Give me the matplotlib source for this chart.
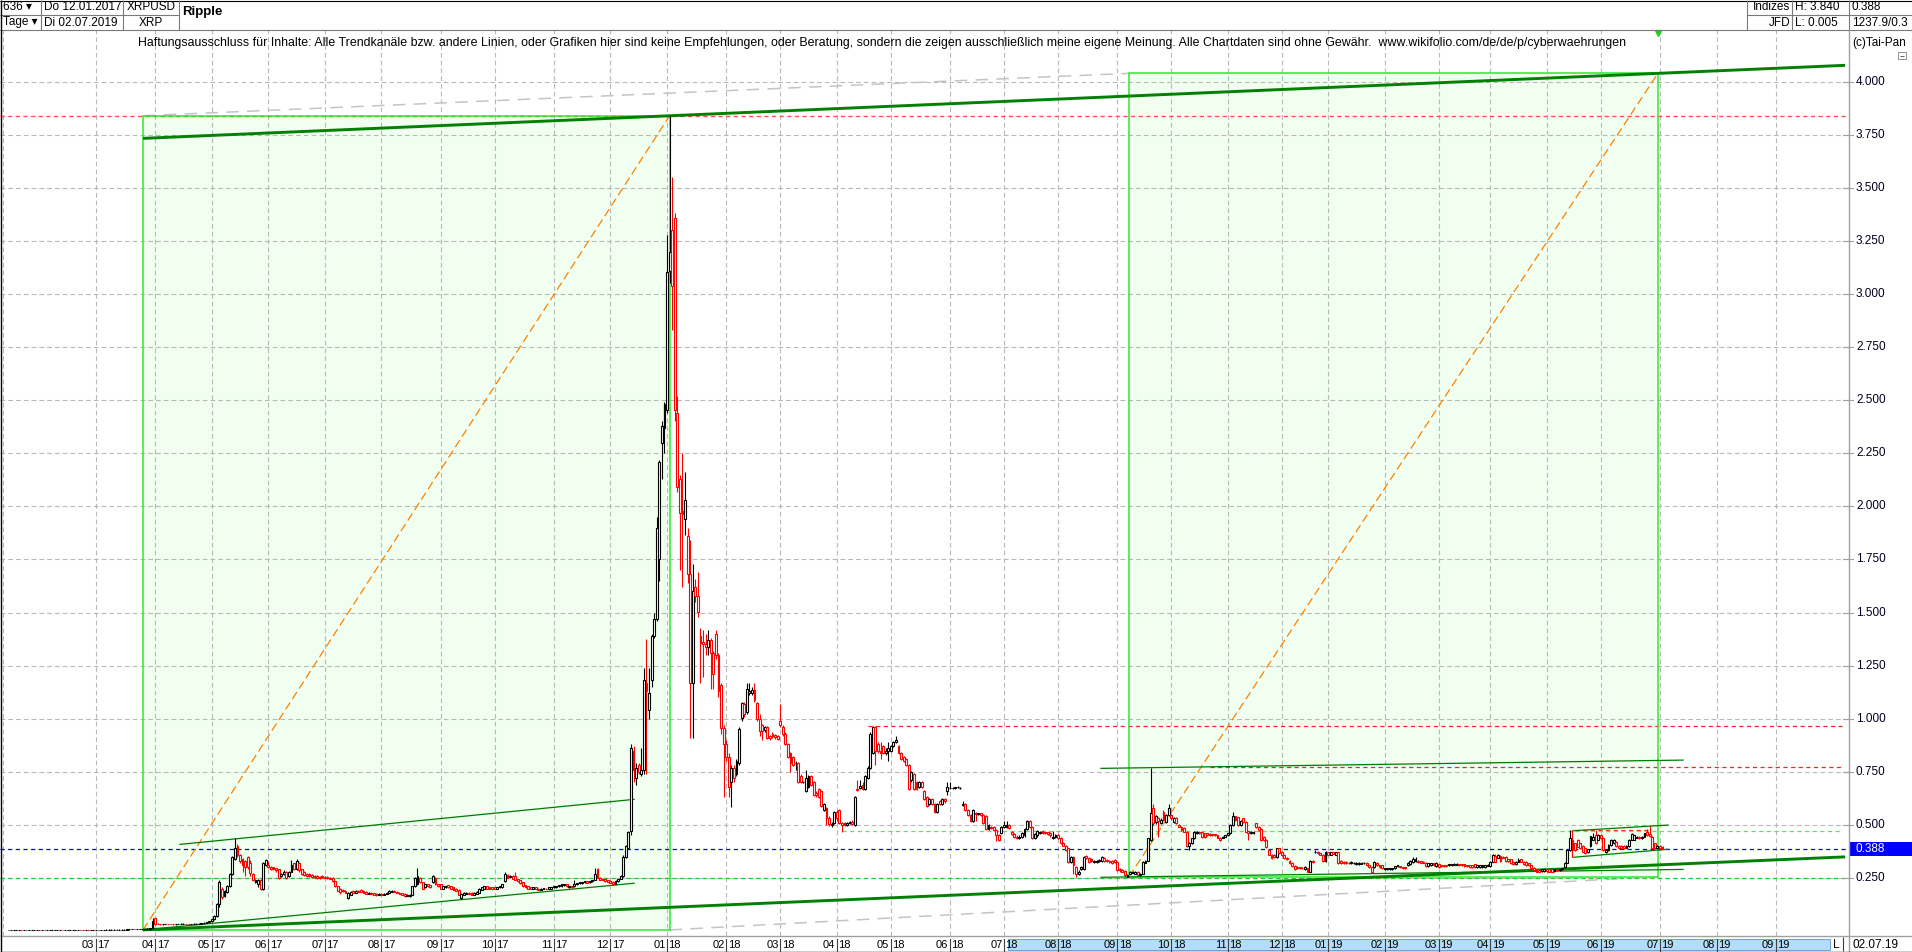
import numpy as np
import matplotlib
matplotlib.use("Agg")
import matplotlib.pyplot as plt
from matplotlib import transforms
from matplotlib.patches import Rectangle

plt.rcParams['font.family'] = ['Liberation Sans', 'DejaVu Sans']
plt.rcParams['lines.scale_dashes'] = False

# ---------------- data: daily (weekday) OHLC of XRPUSD, in thousandths of USD ----------------
# each tuple = (open, high, low, close)
ohlc_2017_pre = [
(6,7,6,6),(6,7,6,6),(6,7,6,6),(6,7,5,6),(6,7,6,6),(7,7,6,6),(6,7,6,6),(6,7,6,6),(6,7,6,6),(6,7,6,6),
(6,7,6,7),(7,7,6,7),(7,7,6,6),(6,7,6,6),(6,7,6,6),(6,7,6,6),(6,7,6,6),(6,7,6,6),(6,7,6,6),(6,7,6,6),
(6,7,6,6),(7,7,6,6),(6,7,6,6),(6,7,6,6),(6,7,6,6),(6,7,6,6),(6,7,6,6),(6,7,6,6),(6,7,6,7),(7,7,6,6),
(6,7,6,6),(7,7,6,6),(6,7,6,6),(6,7,6,6)]
ohlc_2017_03 = [
(6,7,6,6),(6,7,6,6),(6,7,6,6),(6,7,6,7),(7,8,6,7),(7,8,6,7),(7,8,6,7),(7,8,6,7),(7,8,6,7),(7,8,6,7),
(7,8,6,7),(7,8,6,7),(7,9,7,8),(8,9,7,8),(8,10,8,9),(9,10,8,9),(9,10,8,9),(9,10,8,9),(9,11,9,10),(10,11,9,10),
(10,12,10,11),(11,16,11,15),(16,60,15,48)]
ohlc_2017_04 = [
(60,62,30,35),(35,37,31,33),(33,35,30,32),(32,34,30,33),(33,35,31,34),(34,35,31,33),(33,35,31,33),(33,34,30,32),(32,34,30,32),(32,35,31,33),
(33,36,32,34),(34,36,32,34),(34,35,31,33),(33,35,31,33),(33,35,31,33),(33,36,32,34),(34,36,32,34),(34,37,33,35),(35,38,34,36),(36,40,35,38),
(38,44,37,42),(42,48,41,46)]
ohlc_2017_05 = [
(46,58,44,55),(55,75,53,70),(70,130,68,125),(125,240,115,230),(200,205,150,160),(165,195,160,190),(185,215,180,210),(210,275,205,270),(270,355,265,350),(340,437,335,390),
(400,410,350,360),(360,365,320,330),(340,345,280,310),(330,335,260,300),(350,355,290,300),(320,335,260,275),(270,275,235,240),(230,245,225,240),(220,245,205,240),(240,245,195,200),
(200,325,195,320),(310,340,305,335)]
ohlc_2017_06 = [
(310,330,295,300),(300,305,285,290),(300,302,285,290),(295,298,280,285),(290,292,245,250),(260,275,255,270),(270,285,265,280),(280,282,245,250),(260,283,255,280),(280,335,278,310),
(320,322,285,290),(290,340,288,330),(320,325,280,285),(290,292,265,270),(280,283,260,265),(270,273,255,260),(270,272,256,260),(265,268,250,255),(260,262,250,255),(260,262,246,250),
(255,258,246,250),(260,262,250,255)]
ohlc_2017_07 = [
(255,258,248,250),(255,257,247,250),(250,253,243,245),(250,252,232,235),(235,237,208,210),(210,213,188,190),(200,203,175,185),(195,198,186,190),(190,193,178,180),(155,183,150,180),
(170,188,168,185),(190,193,178,180),(180,193,178,190),(190,193,183,185),(195,197,183,185),(190,192,178,180),(185,187,172,175),(175,183,172,180),(180,182,172,175),(178,180,168,170),
(175,177,165,168),(170,178,168,175)]
ohlc_2017_08 = [
(175,177,168,170),(170,178,168,175),(175,182,173,180),(180,192,178,190),(185,193,183,190),(190,192,183,185),(185,187,178,180),(180,182,173,175),(178,180,168,170),(175,177,162,165),
(165,172,163,170),(165,172,162,170),(170,212,168,210),(210,252,208,250),(220,295,218,260),(250,255,228,230),(230,233,198,200),(205,223,202,220),(220,222,208,210),(215,217,203,205),
(230,262,228,260),(250,252,218,220),(220,223,208,210)]
ohlc_2017_09 = [
(220,222,198,200),(200,212,198,210),(205,213,203,210),(215,217,203,205),(210,212,198,200),(205,207,193,195),(200,202,188,190),(195,197,168,170),(155,177,150,175),(170,182,168,180),
(175,182,173,180),(180,182,173,175),(180,182,168,170),(170,182,168,180),(175,187,173,185),(180,202,178,200),(195,207,193,205),(200,212,198,210),(210,212,198,200),(205,207,198,200),
(205,207,198,200)]
ohlc_2017_10 = [
(205,207,198,200),(200,207,198,205),(205,212,203,210),(205,222,203,220),(235,280,232,270),(265,268,248,250),(255,262,253,260),(260,262,243,245),(260,280,238,240),(245,247,233,235),
(240,242,223,225),(230,232,208,210),(215,217,203,205),(210,212,198,200),(205,207,196,198),(198,207,196,205),(205,207,196,198),(200,202,193,195),(195,202,193,200),(198,204,196,202),
(200,202,196,198),(198,207,196,205),(200,207,198,205)]
ohlc_2017_11 = [
(205,212,203,210),(205,212,203,210),(210,217,208,215),(210,222,208,220),(215,222,213,220),(220,222,208,210),(205,212,203,210),(210,212,203,205),(210,240,208,220),(220,227,218,225),
(225,232,223,230),(225,232,223,230),(230,237,228,235),(235,237,226,228),(230,237,228,235),(235,242,233,240),(240,295,238,270),(290,295,248,250),(250,252,238,240),(245,247,238,240),
(245,247,233,235),(240,242,230,232)]
ohlc_2017_12 = [
(235,240,226,228),(230,235,218,222),(222,238,220,235),(235,247,233,245),(245,262,243,260),(260,360,255,350),(350,405,345,400),(390,470,385,465),(470,880,450,860),(850,870,700,760),
(720,790,690,770),(780,790,740,750),(740,860,730,760),(760,1240,740,1180),(1170,1375,740,1130),(1040,1240,1000,1120),(1180,1400,1150,1390),(1390,1500,1380,1470),(1470,1950,1460,1900),(1750,2220,1650,2210),
(2300,2400,2130,2380),(2370,2490,2250,2480)]
ohlc_2018_01 = [
(2455,3280,2440,3106),(3110,3840,3050,3200),(3300,3550,2830,3040),(3360,3380,2400,2455),(2440,2520,2070,2090),(2130,2150,1700,1970),(1980,2250,1620,1965),(1940,2160,1865,2030),(1860,1900,1640,1680),(1680,1840,910,1170),
(1170,1730,910,1600),(1620,1660,1550,1580),(1578,1690,1480,1504),(1390,1425,1167,1355),(1360,1417,1197,1350),(1350,1400,1300,1340),(1340,1420,1300,1370),(1370,1380,1140,1310),(1310,1320,1140,1210),(1400,1420,1280,1300),
(1300,1310,1100,1130),(1160,1170,930,955),(955,970,633,880)]
ohlc_2018_02 = [
(880,900,800,820),(820,840,630,680),(700,780,585,770),(770,780,700,720),(740,810,730,800),(790,960,780,950),(1005,1080,990,1075),(1070,1080,1010,1020),(1030,1170,1020,1140),(1120,1170,1110,1130),
(1120,1150,1110,1135),(1135,1170,1080,1090),(1075,1080,990,1000),(1000,1020,920,940),(970,975,900,940),(945,965,935,960),(960,965,905,910),(920,925,900,910),(930,935,910,920),(925,930,905,915),
(920,925,900,905)]
ohlc_2018_03 = [
(990,1070,960,970),(960,970,920,930),(930,935,875,880),(880,885,815,820),(840,845,750,790),(820,825,775,780),(790,800,760,790),(790,795,695,700),(730,740,695,700),(700,705,695,702),
(660,760,655,720),(680,735,675,730),(730,735,685,690),(700,705,635,640),(650,660,630,640),(670,675,625,630),(660,665,585,590),(570,605,565,600),(580,585,500,530),(530,540,495,505),
(500,515,490,505),(510,565,505,560)]
ohlc_2018_04 = [
(560,570,520,530),(570,575,505,510),(510,515,466,500),(510,512,495,500),(500,515,495,510),(510,520,505,515),(515,525,500,505),(500,635,495,630),(670,710,660,665),(675,710,670,685),
(690,700,665,670),(670,735,665,730),(720,775,715,770),(770,935,765,930),(840,965,835,960),(960,965,780,850),(880,890,840,850),(850,890,810,840),(870,875,835,840),(840,860,830,850),
(850,890,800,860)]
ohlc_2018_05 = [
(850,875,845,870),(870,895,865,890),(890,920,885,900),(870,875,835,840),(840,845,805,810),(820,825,795,800),(810,815,775,780),(780,785,665,670),(710,755,700,750),(740,745,665,670),
(700,705,665,670),(680,705,675,700),(700,705,675,680),(660,665,615,620),(630,635,585,590),(600,625,595,620),(620,625,595,600),(600,605,555,560),(560,605,555,600),(610,615,595,600),
(600,625,595,620),(620,625,605,610),(660,700,640,680)]
ohlc_2018_06 = [
(675,700,670,675),(675,680,670,675),(675,680,670,676),(678,685,672,680),(675,680,670,675),(595,610,590,600),(600,605,565,570),(570,575,540,545),(545,550,515,520),(520,575,515,570),
(555,560,520,550),(550,558,545,555),(555,558,540,545),(545,550,505,510),(540,545,475,480),(480,505,475,500),(490,495,480,485),(490,495,470,475),(475,480,425,450),(450,455,425,430),
(460,495,455,490)]
ohlc_2018_07 = [
(490,520,485,500),(490,520,485,500),(500,505,480,485),(465,470,450,455),(455,460,440,445),(445,450,435,440),(440,450,435,445),(445,465,440,460),(450,485,445,480),(480,525,475,520),
(520,525,485,490),(490,495,435,440),(440,460,435,455),(450,475,445,470),(460,470,455,465),(470,475,455,460),(465,470,455,460),(465,468,450,455),(460,465,445,450),(440,470,435,445),
(445,455,440,450)]
ohlc_2018_08 = [
(450,455,435,440),(437,445,410,413),(413,418,398,400),(400,405,378,382),(389,392,320,326),(326,355,322,350),(350,355,270,310),(300,305,256,270),(270,285,265,280),(290,305,285,300),
(290,355,285,350),(355,360,340,345),(345,350,322,327),(340,345,325,330),(325,335,320,330),(325,335,320,330),(330,340,326,335),(330,355,326,350),(345,350,326,330),(335,340,326,330),
(330,335,320,325),(330,335,316,320),(335,338,320,325)]
ohlc_2018_09 = [
(325,330,283,287),(290,295,280,285),(285,290,276,280),(284,288,256,264),(256,268,254,264),(270,283,268,280),(275,283,272,280),(270,283,268,280),(280,283,262,265),(265,273,262,270),
(270,330,268,327),(320,335,318,330),(330,440,328,437),(430,766,425,555),(578,600,500,507),(515,545,505,540),(530,535,445,520),(510,530,505,525),(562,568,518,523),(515,550,510,546),
(546,598,540,578)]
ohlc_2018_10 = [
(546,550,525,530),(515,535,510,530),(530,535,502,507),(500,505,488,492),(492,496,472,476),(484,488,464,468),(468,472,396,400),(400,418,380,413),(413,440,408,437),(437,472,432,468),
(460,472,455,468),(468,470,455,460),(465,468,440,445),(460,463,440,445),(460,463,446,450),(458,461,446,450),(455,458,446,450),(456,459,446,450),(450,453,436,440),(440,443,426,430),
(440,448,436,445),(445,453,441,450)]
ohlc_2018_11 = [
(450,463,446,460),(460,503,456,500),(500,562,496,542),(540,544,519,523),(535,538,496,500),(500,524,496,520),(530,533,511,515),(515,518,464,468),(470,473,430,460),(460,471,456,468),
(460,471,456,468),(507,510,486,490),(490,493,472,476),(480,483,426,430),(445,448,426,430),(430,433,393,397),(382,385,356,360),(360,364,339,343),(360,363,346,350),(350,393,346,390),
(390,393,362,366)]
ohlc_2018_12 = [
(374,378,354,358),(358,362,339,343),(345,349,336,340),(330,334,316,320),(320,324,302,306),(306,310,286,290),(300,304,291,295),(300,303,293,297),(298,301,291,295),(290,304,287,300),
(295,298,276,280),(280,334,277,330),(330,333,321,325),(370,380,366,374),(374,377,362,366),(366,369,356,360),(360,363,326,330),(330,378,327,374)]
ohlc_2019_01 = [
(370,373,356,360),(360,374,356,370),(370,373,361,365),(360,374,356,370),(370,373,316,320),(330,333,316,320),(325,328,316,320),(325,328,316,320),(322,325,314,318),(318,329,315,325),
(318,324,315,320),(316,324,313,320),(316,324,313,320),(317,323,314,320),(318,323,315,320),(320,323,306,310),(310,313,296,300),(300,303,276,280),(300,329,297,325),(320,323,306,310),
(310,313,296,300),(310,313,291,295)]
ohlc_2019_02 = [
(290,298,287,295),(290,298,287,295),(290,298,287,295),(290,298,287,295),(295,308,292,305),(305,313,302,310),(305,308,297,300),(300,303,292,295),(300,303,292,295),(310,323,307,320),
(315,333,312,330),(325,350,322,337),(330,350,327,340),(330,333,322,325),(328,331,319,322),(326,329,319,322),(322,325,303,306),(306,321,303,318),(310,321,307,318),(318,321,307,310),
(306,325,303,322)]
ohlc_2019_03 = [
(314,317,299,302),(310,313,302,305),(310,313,302,305),(310,313,302,305),(310,317,307,314),(310,317,307,314),(312,318,309,315),(313,319,310,316),(314,317,307,310),(314,317,307,310),
(314,317,302,305),(310,313,302,305),(310,313,299,302),(310,313,299,302),(314,317,299,302),(302,313,299,310),(302,313,299,310),(302,313,299,310),(302,313,299,310),(308,315,305,312)]
ohlc_2019_04 = [
(306,329,303,326),(326,363,323,360),(353,365,323,326),(345,363,342,360),(353,356,327,330),(350,353,342,345),(350,353,327,330),(337,340,327,330),(337,340,315,318),(326,329,311,314),
(314,329,311,326),(326,345,323,333),(337,340,323,326),(326,329,311,314),(326,329,307,310),(318,321,307,310),(310,313,295,298),(298,301,284,287),(290,293,277,280),(288,291,277,280),
(283,293,280,290),(283,293,280,290)]
ohlc_2019_05 = [
(290,293,280,283),(290,293,277,280),(290,293,277,280),(283,293,280,290),(290,293,282,285),(285,293,282,290),(290,298,287,295),(300,325,297,322),(322,384,319,381),(381,476,378,436),
(428,474,350,381),(413,416,378,381),(428,431,394,397),(413,416,386,389),(400,403,371,374),(389,392,363,366),(370,388,367,385),(400,449,397,446),(430,460,427,445),(452,476,410,413),
(430,455,427,452)]
ohlc_2019_06 = [
(450,453,433,436),(436,439,378,381),(370,383,367,380),(380,408,377,405),(405,431,402,428),(415,431,412,428),(420,423,397,400),(400,403,387,390),(400,403,387,390),(400,403,387,390),
(393,403,390,400),(400,433,397,430),(430,461,427,458),(430,453,427,450),(440,448,437,445),(445,448,433,436),(436,448,433,445),(445,463,442,460),(467,479,449,452),(456,495,444,447),
(445,448,380,389),(413,416,386,389),(390,403,387,400)]
ohlc_2019_07 = [(400,403,387,390),(395,398,385,388)]

month_blocks = [ohlc_2017_pre, ohlc_2017_03, ohlc_2017_04, ohlc_2017_05, ohlc_2017_06, ohlc_2017_07,
                ohlc_2017_08, ohlc_2017_09, ohlc_2017_10, ohlc_2017_11, ohlc_2017_12, ohlc_2018_01,
                ohlc_2018_02, ohlc_2018_03, ohlc_2018_04, ohlc_2018_05, ohlc_2018_06, ohlc_2018_07,
                ohlc_2018_08, ohlc_2018_09, ohlc_2018_10, ohlc_2018_11, ohlc_2018_12, ohlc_2019_01,
                ohlc_2019_02, ohlc_2019_03, ohlc_2019_04, ohlc_2019_05, ohlc_2019_06, ohlc_2019_07]

# calendar of the time axis (bars per month); first entry starts 2 bars before the first data bar
month_labels = ['', '03|17', '04|17', '05|17', '06|17', '07|17', '08|17', '09|17', '10|17', '11|17', '12|17',
                '01|18', '02|18', '03|18', '04|18', '05|18', '06|18', '07|18', '08|18', '09|18', '10|18',
                '11|18', '12|18', '01|19', '02|19', '03|19', '04|19', '05|19', '06|19', '07|19', '08|19', '09|19']
month_lengths = [36, 23, 22, 22, 22, 22, 23, 21, 23, 22, 22, 23, 21, 22, 21, 23, 21, 21, 23, 21, 22,
                 21, 18, 22, 21, 20, 22, 21, 23, 22, 23, 23]
calendar_start = -2

price_ticks = [0.25, 0.5, 0.75, 1.0, 1.25, 1.5, 1.75, 2.0, 2.25, 2.5, 2.75, 3.0, 3.25, 3.5, 3.75, 4.0]
last_price = 0.388
ath, atl = 3.840, 0.005

# drawing annotations (bar index, price)
box1 = (52.3, atl, None, ath)           # right edge = bar of all-time high
box2 = (435.6, 0.256, 641.2, None)      # top edge = upper channel line
channel_slope = 0.00052                 # price per bar of the long channel
thin_lines = [((66.7, 0.408), (243.2, 0.620)), ((52.3, 0.005), (243.2, 0.225)),
              ((424.7, 0.766), (651.0, 0.805)), ((424.7, 0.253), (651.0, 0.290)),
              ((608.2, 0.472), (645.1, 0.499)), ((608.2, 0.347), (645.1, 0.385))]
red_levels = [(0.966, 334.0), (0.771, 467.0)]
red_short = (0.476, 609.0, 638.0)
green_levels = [(0.251, None), (0.471, 324.0)]

# ---------------- build arrays ----------------
bars = [b for blk in month_blocks for b in blk]
o = np.array([b[0] for b in bars]) / 1000.0
h = np.array([b[1] for b in bars]) / 1000.0
l = np.array([b[2] for b in bars]) / 1000.0
c = np.array([b[3] for b in bars]) / 1000.0
idx = np.arange(len(bars))

W, H = 1912, 952
fig = plt.figure(figsize=(W / 100, H / 100), dpi=100)
PT, PB, PR = 30, 936, 1849
ax = fig.add_axes([0, (H - PB) / H, PR / W, (PB - PT) / H])
ax.set_xlim(-3.3, 715.5)
ax.set_ylim(-0.0236, 4.244)
ax.set_axis_off()
XR = 712.8

# boxes
ath_idx = int(np.argmax(h))
b1x0, b1y0, _, b1y1 = box1
b1x1 = ath_idx
upper_at = lambda x: ath + channel_slope * (x - ath_idx)
lower_at = lambda x: atl + channel_slope * (x - b1x0)
b2x0, b2y0, b2x1, _ = box2
b2y1 = upper_at(b2x1)
for (x0, y0, x1, y1) in [(b1x0, b1y0, b1x1, b1y1), (b2x0, b2y0, b2x1, b2y1)]:
    ax.add_patch(Rectangle((x0, y0), x1 - x0, y1 - y0, facecolor='#f0fff0', edgecolor='none', zorder=0.5))

# grid
grid_kw = dict(color='#b8b8b8', lw=0.8, dashes=(3.4, 2.2), zorder=1)
for v in price_ticks:
    ax.axhline(v, **grid_kw)
tick_pos = calendar_start + np.concatenate([[0], np.cumsum(month_lengths[:-1])])
for t in tick_pos:
    ax.axvline(t, **grid_kw)

for (x0, y0, x1, y1) in [(b1x0, b1y0, b1x1, b1y1), (b2x0, b2y0, b2x1, b2y1)]:
    ax.add_patch(Rectangle((x0, y0), x1 - x0, y1 - y0, facecolor='none', edgecolor='#2ee82e', lw=1.1, zorder=2))
    ax.plot([x0, x1], [y0, y1], color='#ff8000', lw=0.9, dashes=(6, 3), zorder=2.2)

# gray connectors
ax.plot([b1x0, b2x0], [b1y1, b2y1], color='#c4c4c4', lw=1.1, dashes=(9, 6), zorder=1.5)
ax.plot([b1x1, b2x1], [b1y0, b2y0], color='#c4c4c4', lw=1.1, dashes=(9, 6), zorder=1.5)

# horizontal levels
ax.axhline(ath, color='#ff5050', lw=1.0, dashes=(3, 2.5), zorder=1.6)
for v, x0 in red_levels:
    ax.hlines(v, x0, XR, color='#ff2020', lw=0.9, linestyles=(0, (3, 2.5)), zorder=1.6)
ax.hlines(red_short[0], red_short[1], red_short[2], color='#ff2020', lw=0.9, linestyles=(0, (3, 2.5)), zorder=1.6)
for v, x0 in green_levels:
    if x0 is None:
        ax.axhline(v, color='#22cc22', lw=0.9, dashes=(3, 2.5), zorder=1.6)
    else:
        ax.hlines(v, x0, XR, color='#66e066', lw=0.9, linestyles=(0, (3, 2.5)), zorder=1.6)
ax.axhline(last_price, color='#0000ee', lw=0.9, dashes=(3, 2.5), zorder=1.6)

# channel lines
xe = 714.0
ax.plot([b1x0, xe], [lower_at(b1x0), lower_at(xe)], color='#008000', lw=2.1, zorder=2.5, solid_capstyle='butt')
ax.plot([b1x0, xe], [upper_at(b1x0), upper_at(xe)], color='#008000', lw=2.1, zorder=2.5, solid_capstyle='butt')
for (p0, p1) in thin_lines:
    ax.plot([p0[0], p1[0]], [p0[1], p1[1]], color='#007a00', lw=0.9, zorder=2.6)

# candles (hollow)
up = c >= o
cols = np.where(up, '#000000', '#ff0000')
ax.vlines(idx, l, h, colors=cols, lw=0.8, zorder=3)
ax.bar(idx, np.abs(c - o), bottom=np.minimum(o, c), width=0.72, facecolor='white',
       edgecolor=cols, linewidth=0.8, zorder=4)

# marker at top
ax.plot([b2x1], [4.228], marker='v', color='#22cc22', markersize=5, zorder=5, clip_on=False)

# ---------------- overlay (header, axes, band) ----------------
ov = fig.add_axes([0, 0, 1, 1])
ov.set_xlim(0, W)
ov.set_ylim(H, 0)
ov.set_axis_off()
ov.patch.set_alpha(0)
lc = '#7a7a7a'
fs = 8.5

def hl(y, x0, x1, col=lc, lw=0.8):
    ov.plot([x0, x1], [y, y], color=col, lw=lw, solid_capstyle='butt')

def vl(x, y0, y1, col=lc, lw=0.8):
    ov.plot([x, x], [y0, y1], color=col, lw=lw, solid_capstyle='butt')

# header
hl(0.5, 0, W, '#000000')
hl(30, 0, W)
hl(14.5, 0, 179)
hl(14.5, 1747, W)
for x in (41, 123, 179, 1747, 1792, 1849):
    vl(x, 0, 30)
ov.text(3, 7.5, '636 ▾', fontsize=fs, va='center', ha='left')
ov.text(3, 22.5, 'Tage ▾', fontsize=fs, va='center', ha='left')
ov.text(44, 7.5, 'Do 12.01.2017', fontsize=fs, va='center', ha='left')
ov.text(44, 22.5, 'Di 02.07.2019', fontsize=fs, va='center', ha='left')
ov.text(151, 7.5, 'XRPUSD', fontsize=fs, va='center', ha='center')
ov.text(151, 22.5, 'XRP', fontsize=fs, va='center', ha='center')
ov.text(182, 12, 'Ripple', fontsize=9.5, fontweight='bold', va='center', ha='left')
ov.text(1790, 7.5, 'Indizes', fontsize=fs, va='center', ha='right')
ov.text(1790, 22.5, 'JFD', fontsize=fs, va='center', ha='right')
ov.text(1795, 7.5, 'H: 3.840', fontsize=fs, va='center', ha='left')
ov.text(1795, 22.5, 'L: 0.005', fontsize=fs, va='center', ha='left')
ov.text(1852, 7.5, '0.388', fontsize=fs, va='center', ha='left')
ov.text(1852, 22.5, '1237.9/0.3', fontsize=fs, va='center', ha='left')

ov.text(138, 43, 'Haftungsausschluss für Inhalte: Alle Trendkanäle bzw. andere Linien, oder Grafiken hier sind keine '
        'Empfehlungen, oder Beratung, sondern die zeigen ausschließlich meine eigene Meinung. Alle Chartdaten sind '
        'ohne Gewähr.  www.wikifolio.com/de/de/p/cyberwaehrungen', fontsize=8.9, va='center', ha='left')
ov.text(1852, 43, '(c)Tai-Pan', fontsize=fs, va='center', ha='left')
ov.add_patch(Rectangle((1898, 52), 8, 7, facecolor='white', edgecolor='#909090', lw=0.7))
hl(55.5, 1900, 1904, '#606060', 0.7)

# right price axis
vl(PR, PT, H, '#a0a0a0', 1.0)
ty = transforms.blended_transform_factory(ov.transData, ax.transData)
for v in price_ticks:
    ov.plot([1843, 1853], [v, v], transform=ty, color='#a0a0a0', lw=0.8)
    ov.text(1856, v, f'{v:.3f}', transform=ty, fontsize=fs, va='center', ha='left', color='#000020')
ov.add_patch(Rectangle((1850, last_price - 0.033), 62, 0.066, transform=ty, facecolor='#0000ff', edgecolor='none'))
ov.text(1856, last_price, f'{last_price:.3f}', transform=ty, fontsize=fs, va='center', ha='left', color='white')

# time band
hl(936, 0, W, '#a0a0a0', 1.0)
hl(951.5, 0, W, '#000000', 1.0)
vl(0.5, 0, H, '#000000', 1.0)
ov.add_patch(Rectangle((1008, 939), 822, 11, facecolor='#b4dcff', edgecolor='#6aa4dc', lw=0.7))
tx = transforms.blended_transform_factory(ax.transData, ov.transData)
tx_l = transforms.offset_copy(tx, fig=fig, x=-1.5, y=0, units='dots')
tx_r = transforms.offset_copy(tx, fig=fig, x=1.5, y=0, units='dots')
for t, lab in zip(tick_pos, month_labels):
    if not lab:
        continue
    mm, yy = lab.split('|')
    ov.plot([t, t], [939, 951], transform=tx, color='#404040', lw=0.8)
    ov.text(t, 944.5, mm, transform=tx_l, fontsize=8, va='center', ha='right')
    ov.text(t, 944.5, yy, transform=tx_r, fontsize=8, va='center', ha='left')
ov.text(1836, 944.5, 'L', fontsize=8.5, va='center', ha='center')
vl(1843, 937, 951, '#404040', 0.8)
ov.text(1853, 944.5, '02.07.19', fontsize=8.5, va='center', ha='left')

fig.savefig('out.png', dpi=100, facecolor='white')
